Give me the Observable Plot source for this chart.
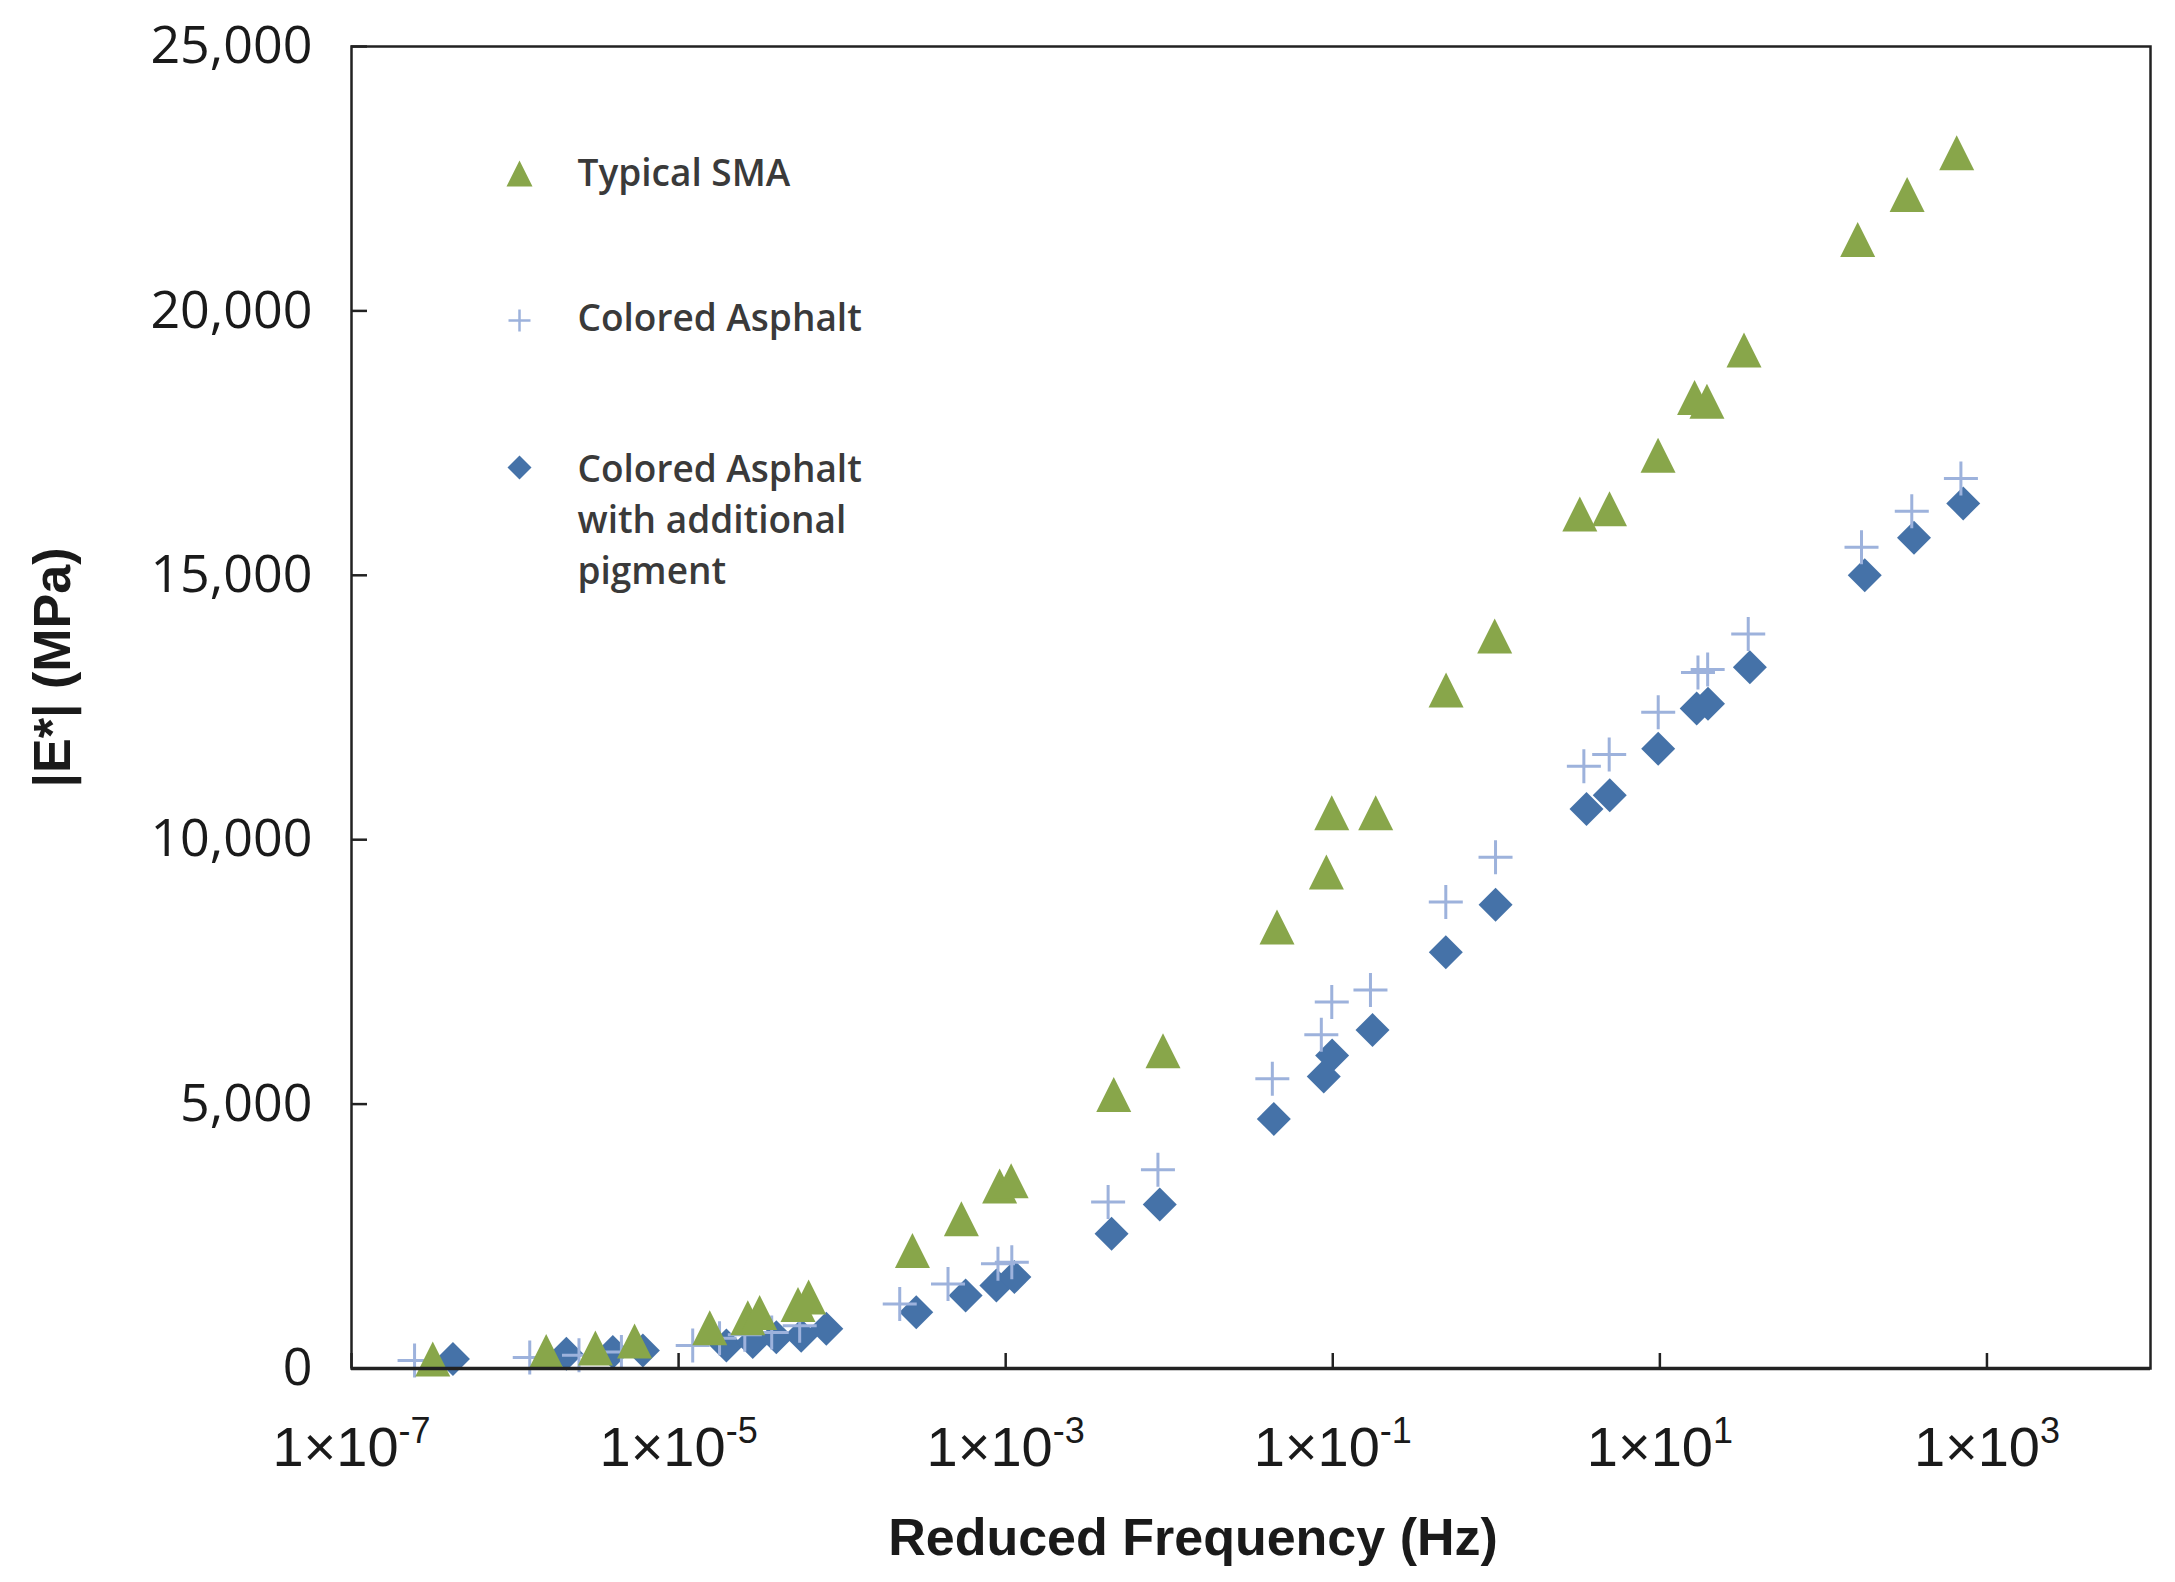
<!DOCTYPE html>
<html>
<head>
<meta charset="utf-8">
<script src="https://cdn.jsdelivr.net/npm/d3@7"></script>
<script src="https://cdn.jsdelivr.net/npm/@observablehq/plot@0.6"></script>
<style>
  html, body { margin: 0; padding: 0; background: #fff; }
</style>
</head>
<body>
<div id="chart"></div>
<script>
// dynamic modulus master curves
const seriesNames = ["Typical SMA", "Colored Asphalt", "Colored Asphalt\nwith additional\npigment"];

const smaFreq = [3.14e-7, 1.55e-6, 3.10e-6, 5.38e-6, 1.55e-5, 2.65e-5, 3.13e-5, 5.37e-5, 6.24e-5, 2.69e-4,
  5.36e-4, 9.18e-4, 1.08e-3, 4.58e-3, 9.16e-3, 0.0456, 0.0914, 0.0986, 0.183, 0.493,
  0.977, 3.24, 4.92, 9.75, 16.3, 19.4, 32.7, 162, 325, 653];
const smaModulus = [180, 320, 390, 520, 770, 960, 1060, 1210, 1350, 2230,
  2830, 3450, 3550, 5180, 6010, 8350, 9390, 10510, 10510, 12830,
  13850, 16160, 16260, 17270, 18360, 18290, 19260, 21350, 22200, 22990];

const caFreq = [2.43e-7, 1.23e-6, 2.46e-6, 4.47e-6, 1.22e-5, 1.78e-5, 2.54e-5, 3.71e-5, 5.5e-5, 2.25e-4,
  4.44e-4, 8.97e-4, 1.09e-3, 4.23e-3, 8.53e-3, 0.0427, 0.0851, 0.0986, 0.170, 0.491,
  0.989, 3.43, 4.90, 9.77, 17.1, 19.6, 34.7, 171, 347, 693];
const caModulus = [150, 210, 250, 310, 435, 570, 640, 680, 810, 1220,
  1600, 1980, 2010, 3150, 3760, 5480, 6310, 6930, 7160, 8820,
  9670, 11390, 11610, 12410, 13160, 13220, 13890, 15530, 16210, 16830];

const pigFreq = [4.17e-7, 2.06e-6, 3.96e-6, 6.05e-6, 1.96e-5, 2.84e-5, 3.96e-5, 5.62e-5, 8.00e-5, 2.84e-4,
  5.69e-4, 8.77e-4, 1.13e-3, 4.44e-3, 8.75e-3, 0.0436, 0.0881, 0.0991, 0.175, 0.491,
  0.989, 3.56, 4.94, 9.77, 16.8, 19.7, 35.5, 179, 358, 716];
const pigModulus = [180, 280, 310, 340, 435, 500, 590, 620, 750, 1065,
  1380, 1570, 1730, 2550, 3100, 4720, 5520, 5920, 6400, 7870,
  8770, 10580, 10840, 11720, 12480, 12570, 13260, 15000, 15710, 16360];

const xTicks = [1e-7, 1e-5, 1e-3, 1e-1, 1e1, 1e3];
const yTicks = [0, 5000, 10000, 15000, 20000, 25000];

const toRows = (fs, es) => fs.map((f, i) => ({freq: f, modulus: es[i]}));
const sma = toRows(smaFreq, smaModulus);
const ca = toRows(caFreq, caModulus);
const pig = toRows(pigFreq, pigModulus);

const green = "#88a64a";
const blue = "#4572a8";
const lightBlue = "#9db2dc";

// marker shapes like the spreadsheet ones
const triangle = {draw(ctx, size) {
  const r = Math.sqrt(size / Math.PI);
  ctx.moveTo(0, -r); ctx.lineTo(r, r); ctx.lineTo(-r, r); ctx.closePath();
}};
const diamond = {draw(ctx, size) {
  const r = Math.sqrt(size / Math.PI);
  ctx.moveTo(0, -r); ctx.lineTo(r, 0); ctx.lineTo(0, r); ctx.lineTo(-r, 0); ctx.closePath();
}};
const plus = {draw(ctx, size) {
  const r = Math.sqrt(size / Math.PI);
  ctx.moveTo(-r, 0); ctx.lineTo(r, 0); ctx.moveTo(0, -r); ctx.lineTo(0, r);
}};

const legendFont = {fontFamily: "Open Sans, Noto Sans, sans-serif", fontSize: 37, fontWeight: 600, fill: "#3a3a3a"};

const chart = Plot.plot({
  width: 2175,
  height: 1582,
  marginLeft: 351,
  marginRight: 25,
  marginTop: 46,
  marginBottom: 214,
  style: {fontFamily: "Liberation Sans, Arial, sans-serif", background: "#fff", color: "#1a1a1a"},
  x: {type: "log", domain: [1e-7, 1e4]},
  y: {domain: [0, 25000]},
  marks: [
    Plot.dot(pig, {x: "freq", y: "modulus", symbol: diamond, r: 17, fill: blue, stroke: "none"}),
    Plot.dot(ca, {x: "freq", y: "modulus", symbol: plus, r: 17, fill: "none", stroke: lightBlue, strokeWidth: 3}),
    Plot.dot(sma, {x: "freq", y: "modulus", symbol: triangle, r: 17.5, fill: green, stroke: "none"}),
    Plot.frame({stroke: "#222", strokeWidth: 2.5}),
    Plot.ruleY([0], {stroke: "#222", strokeWidth: 3.5}),
    Plot.axisY(yTicks, {
      tickSize: -16, tickPadding: 55, tickFormat: d3.format(","), label: null,
      fontFamily: "Open Sans, Noto Sans, sans-serif", fontSize: 52, stroke: "#222", strokeWidth: 2.5
    }),
    Plot.axisX(xTicks, {
      tickSize: -15, tickPadding: 73, label: null,
      tickFormat: (d) => `1×10^${Math.round(Math.log10(d))}`,
      fontFamily: "Liberation Sans, Arial, sans-serif", fontSize: 56, stroke: "#222", strokeWidth: 2.5
    }),
    Plot.text(["|E*| (MPa)"], {
      x: null, y: null, text: (d) => d, frameAnchor: "left", rotate: -90, dx: -298, dy: -40,
      textAnchor: "middle", lineAnchor: "middle", fontSize: 52, fontWeight: "bold", fill: "#1a1a1a",
      ariaLabel: "y-title"
    }),
    Plot.text(["Reduced Frequency (Hz)"], {
      x: null, y: null, text: (d) => d, frameAnchor: "bottom", dx: -58, dy: 170,
      textAnchor: "middle", lineAnchor: "middle", fontSize: 52, fontWeight: "bold", fill: "#1a1a1a"
    }),
    // legend
    Plot.dot([seriesNames[0]], {x: null, y: null, frameAnchor: "top-left", dx: 168, dy: 127, symbol: triangle, r: 13, fill: green, stroke: "none"}),
    Plot.dot([seriesNames[1]], {x: null, y: null, frameAnchor: "top-left", dx: 168, dy: 274, symbol: plus, r: 11, fill: "none", stroke: lightBlue, strokeWidth: 2.5}),
    Plot.dot([seriesNames[2]], {x: null, y: null, frameAnchor: "top-left", dx: 168, dy: 421, symbol: diamond, r: 12, fill: blue, stroke: "none"}),
    Plot.text([seriesNames[0]], {x: null, y: null, text: (d) => d, frameAnchor: "top-left", dx: 226, dy: 128, textAnchor: "start", lineAnchor: "middle", ...legendFont}),
    Plot.text([seriesNames[1]], {x: null, y: null, text: (d) => d, frameAnchor: "top-left", dx: 226, dy: 273, textAnchor: "start", lineAnchor: "middle", ...legendFont}),
    Plot.text([seriesNames[2]], {x: null, y: null, text: (d) => d, frameAnchor: "top-left", dx: 226, dy: 470, textAnchor: "start", lineAnchor: "middle", lineHeight: 1.38, ...legendFont})
  ]
});

const svgNS = "http://www.w3.org/2000/svg";

// superscript exponents on the frequency ticks
chart.querySelectorAll('[aria-label="x-axis tick label"] text').forEach((t) => {
  const [base, exp] = t.textContent.split("^");
  t.textContent = base;
  const sup = document.createElementNS(svgNS, "tspan");
  sup.setAttribute("dy", "-23");
  sup.setAttribute("font-size", "36");
  sup.textContent = exp;
  t.appendChild(sup);
});

// raised asterisk in |E*|
chart.querySelectorAll('[aria-label="y-title"] text').forEach((t) => {
  t.textContent = "|E";
  const star = document.createElementNS(svgNS, "tspan");
  star.setAttribute("dy", "-18");
  star.setAttribute("font-size", "32");
  star.setAttribute("font-weight", "normal");
  star.textContent = "*";
  const rest = document.createElementNS(svgNS, "tspan");
  rest.setAttribute("dy", "18");
  rest.textContent = "| (MPa)";
  t.append(star, rest);
});

document.querySelector("#chart").append(chart);
</script>
</body>
</html>
